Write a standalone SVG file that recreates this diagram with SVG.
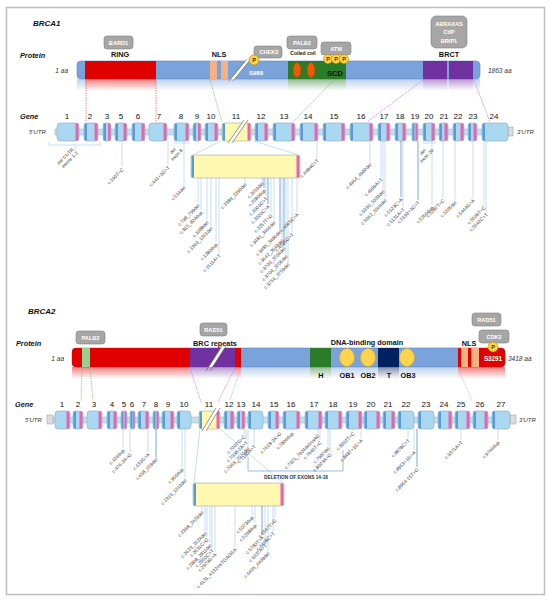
<svg xmlns="http://www.w3.org/2000/svg" width="550" height="602" viewBox="0 0 550 602">
<defs>
<style>
text{font-family:"Liberation Sans",Arial,sans-serif}
.ttl{font-size:8px;font-weight:bold;font-style:italic;fill:#111}
.lbl{font-size:7.3px;font-weight:bold;font-style:italic;fill:#111}
.dom{font-size:7.3px;font-weight:bold;fill:#111;text-anchor:middle}
.aa{font-size:6.5px;font-style:italic;fill:#333}
.box{fill:#A6A6A6;stroke:#7F7F7F;stroke-width:.6}
.bt{font-size:5.6px;font-weight:bold;fill:#fff;text-anchor:middle}
.pc{fill:#FFD43B;stroke:#B8860B;stroke-width:.6}
.pt{font-size:5.5px;font-weight:bold;fill:#333;text-anchor:middle}
.bar{fill:#7BA3DB;stroke:#5F87C0;stroke-width:.6}
.ex{fill:#AAD8F0;stroke:#8BA9C2;stroke-width:.6}
.ey{fill:#FFF8B0;stroke:#A8A890;stroke-width:.6}
.sl{fill:#5B9BD5}
.sr{fill:#E366AE}
.intr{fill:#C8DDEC;stroke:#98B4CA;stroke-width:.5}
.num{font-size:8px;fill:#111;text-anchor:middle}
.utr{font-size:6px;font-style:italic;fill:#333}
.mut{font-size:4.8px;fill:#404040;text-anchor:end}
.mutc{font-size:4.8px;fill:#404040;text-anchor:middle}
.ml{stroke:#A9CBEA;stroke-width:.65;fill:none}
.md{stroke:#2E75B6;stroke-width:.65;fill:none}
.dr{stroke:#FF6B6B;stroke-width:.8;stroke-dasharray:1.5 1;fill:none}
.dg{stroke:#7CC37C;stroke-width:.8;stroke-dasharray:1.5 1;fill:none}
.dp{stroke:#C77DD9;stroke-width:.8;stroke-dasharray:1.5 1;fill:none}
.db{stroke:#9DC3E6;stroke-width:.8;stroke-dasharray:1.5 1;fill:none}
.sla{stroke:#555;stroke-width:.6}
</style>
<linearGradient id="fadeG" x1="0" y1="0" x2="0" y2="1">
<stop offset="0" stop-color="#fff" stop-opacity=".5"/>
<stop offset="1" stop-color="#fff" stop-opacity="0"/>
</linearGradient>
<mask id="m1" maskUnits="userSpaceOnUse" x="0" y="79" width="550" height="12"><rect x="0" y="79" width="550" height="12" fill="url(#fadeG)"/></mask>
<mask id="m2" maskUnits="userSpaceOnUse" x="0" y="367" width="550" height="12"><rect x="0" y="367" width="550" height="12" fill="url(#fadeG)"/></mask>
</defs>
<rect x="6.5" y="7.5" width="538" height="587" fill="#fff" stroke="#BFBFBF" stroke-width="1.5"/>

<!-- ================= BRCA1 ================= -->
<text class="ttl" x="33" y="26">BRCA1</text>
<text class="lbl" x="20" y="58">Protein</text>
<text class="aa" x="68" y="73" text-anchor="end">1 aa</text>
<text class="aa" x="488" y="73">1863 aa</text>

<g id="brca1-protein">
<rect class="bar" x="77" y="61" width="403" height="18" rx="4"/>
<rect x="85" y="61" width="71" height="18" fill="#E00000"/>
<rect x="210" y="61" width="7" height="18" fill="#F4B183"/>
<rect x="221" y="61" width="7" height="18" fill="#F4B183"/>
<polygon points="229,81 247,59 251,59 233,81" fill="#fff"/>
<line class="sla" x1="229" y1="81" x2="247" y2="59"/>
<line class="sla" x1="233" y1="81" x2="251" y2="59"/>
<rect x="288" y="61" width="58" height="18" fill="#2A7B2A"/>
<ellipse cx="297" cy="70" rx="4" ry="7.5" fill="#E85D04" stroke="#B04000" stroke-width=".5"/>
<ellipse cx="311" cy="70" rx="4" ry="7.5" fill="#E85D04" stroke="#B04000" stroke-width=".5"/>
<rect x="423" y="61" width="24" height="18" fill="#7030A0"/>
<rect x="449" y="61" width="24" height="18" fill="#7030A0"/>
<text x="256" y="75" font-size="6" font-weight="bold" fill="#fff" text-anchor="middle">S988</text>
<text x="335" y="76" font-size="7.5" font-weight="bold" fill="#111" text-anchor="middle">SCD</text>
<g mask="url(#m1)">
<rect x="77" y="79" width="403" height="12" fill="#7BA3DB"/>
<rect x="85" y="79" width="71" height="12" fill="#E00000"/>
<rect x="288" y="79" width="58" height="12" fill="#2A7B2A"/>
<rect x="423" y="79" width="24" height="12" fill="#7030A0"/>
<rect x="449" y="79" width="24" height="12" fill="#7030A0"/>
</g>
</g>

<g id="brca1-ring"><text class="dom" x="120" y="57">RING</text></g>
<g id="brca1-nls"><text class="dom" x="219" y="57" font-size="7">NLS</text></g>
<g id="brca1-coiled"><text x="303" y="55" font-size="5" font-weight="bold" fill="#111" text-anchor="middle">Coiled coil</text></g>
<g id="brca1-brct"><text class="dom" x="449" y="57">BRCT</text></g>

<g id="bard1"><rect class="box" x="104" y="36" width="29" height="13" rx="3"/><text class="bt" x="118.5" y="44.7">BARD1</text></g>
<g id="chek2"><rect class="box" x="254" y="46" width="28" height="12" rx="3"/><text class="bt" x="269" y="54.2">CHEK2</text></g>
<g id="palb2-1"><rect class="box" x="287" y="36" width="30" height="13" rx="3"/><text class="bt" x="302" y="44.7">PALB2</text></g>
<g id="atm"><rect class="box" x="321" y="42" width="30" height="13" rx="3"/><text class="bt" x="336" y="50.7">ATM</text></g>
<g id="abraxas"><rect class="box" x="431" y="16" width="36" height="32" rx="5"/>
<text class="bt" x="449" y="25.5">ABRAXAS</text><text class="bt" x="449" y="34">CtIP</text><text class="bt" x="449" y="42.5">BRIP1</text></g>
<g id="p-s988"><circle class="pc" cx="254" cy="60" r="5"/><text class="pt" x="254" y="62">P</text></g>
<g id="p-scd">
<circle class="pc" cx="328" cy="59" r="4.5"/><text class="pt" x="328" y="61">P</text>
<circle class="pc" cx="336" cy="59" r="4.5"/><text class="pt" x="336" y="61">P</text>
<circle class="pc" cx="344" cy="59" r="4.5"/><text class="pt" x="344" y="61">P</text>
</g>

<!-- BRCA1 gene -->
<text class="lbl" x="20" y="119">Gene</text>
<text class="utr" x="29" y="134">5'UTR</text>
<text class="utr" x="517" y="134">3'UTR</text>
<g id="brca1-gene">
<rect class="intr" x="55" y="129" width="453" height="6"/>
<rect x="508" y="127" width="5" height="9" fill="#DCDCDC" stroke="#999" stroke-width=".5"/>
<g id="b1e1"><rect class="ex" x="57" y="123" width="22" height="18" rx="3"/><rect class="sr" x="75.5" y="123.5" width="3" height="17"/></g>
<g id="b1e2"><rect class="ex" x="84" y="123" width="14" height="18" rx="3"/><rect class="sl" x="84.5" y="123.5" width="2.5" height="17"/><rect class="sr" x="94.5" y="123.5" width="3" height="17"/></g>
<g id="b1e3"><rect class="ex" x="103" y="123" width="8" height="18" rx="3"/><rect class="sl" x="103.5" y="123.5" width="2.5" height="17"/><rect class="sr" x="108" y="123.5" width="2.5" height="17"/></g>
<g id="b1e5"><rect class="ex" x="115" y="123" width="12" height="18" rx="3"/><rect class="sl" x="115.5" y="123.5" width="2.5" height="17"/><rect class="sr" x="123.5" y="123.5" width="3" height="17"/></g>
<g id="b1e6"><rect class="ex" x="132" y="123" width="13" height="18" rx="3"/><rect class="sl" x="132.5" y="123.5" width="2.5" height="17"/><rect class="sr" x="141.5" y="123.5" width="3" height="17"/></g>
<g id="b1e7"><rect class="ex" x="149" y="123" width="18" height="18" rx="3"/><rect class="sr" x="163.5" y="123.5" width="3" height="17"/></g>
<g id="b1e8"><rect class="ex" x="174" y="123" width="15" height="18" rx="3"/><rect class="sl" x="174.5" y="123.5" width="2.5" height="17"/><rect class="sr" x="185.5" y="123.5" width="3" height="17"/></g>
<g id="b1e9"><rect class="ex" x="193" y="123" width="8" height="18" rx="3"/><rect class="sl" x="193.5" y="123.5" width="2.5" height="17"/><rect class="sr" x="198" y="123.5" width="2.5" height="17"/></g>
<g id="b1e10"><rect class="ex" x="205" y="123" width="13" height="18" rx="3"/><rect class="sl" x="205.5" y="123.5" width="2.5" height="17"/><rect class="sr" x="214.5" y="123.5" width="3" height="17"/></g>
<g id="b1e11"><rect class="ey" x="222" y="123" width="29" height="18" rx="3"/><rect class="sl" x="222.5" y="123.5" width="2.5" height="17"/><rect class="sr" x="247.5" y="123.5" width="3" height="17"/>
<polygon points="228,143 244,120 248,120 232,143" fill="#fff"/><line class="sla" x1="228" y1="143" x2="244" y2="120"/><line class="sla" x1="232" y1="143" x2="248" y2="120"/></g>
<g id="b1e12"><rect class="ex" x="255" y="123" width="13" height="18" rx="3"/><rect class="sl" x="255.5" y="123.5" width="2.5" height="17"/><rect class="sr" x="264.5" y="123.5" width="3" height="17"/></g>
<g id="b1e13"><rect class="ex" x="273" y="123" width="22" height="18" rx="3"/><rect class="sl" x="273.5" y="123.5" width="2.5" height="17"/><rect class="sr" x="291.5" y="123.5" width="3" height="17"/></g>
<g id="b1e14"><rect class="ex" x="300" y="123" width="18" height="18" rx="3"/><rect class="sl" x="300.5" y="123.5" width="2.5" height="17"/><rect class="sr" x="314.5" y="123.5" width="3" height="17"/></g>
<g id="b1e15"><rect class="ex" x="323" y="123" width="22" height="18" rx="3"/><rect class="sl" x="323.5" y="123.5" width="2.5" height="17"/><rect class="sr" x="341.5" y="123.5" width="3" height="17"/></g>
<g id="b1e16"><rect class="ex" x="350" y="123" width="23" height="18" rx="3"/><rect class="sl" x="350.5" y="123.5" width="2.5" height="17"/><rect class="sr" x="369.5" y="123.5" width="3" height="17"/></g>
<g id="b1e17"><rect class="ex" x="378" y="123" width="12" height="18" rx="3"/><rect class="sl" x="378.5" y="123.5" width="2.5" height="17"/><rect class="sr" x="386.5" y="123.5" width="3" height="17"/></g>
<g id="b1e18"><rect class="ex" x="395" y="123" width="11" height="18" rx="3"/><rect class="sl" x="395.5" y="123.5" width="2.5" height="17"/><rect class="sr" x="402.5" y="123.5" width="3" height="17"/></g>
<g id="b1e19"><rect class="ex" x="412" y="123" width="6" height="18" rx="2"/><rect class="sl" x="412.5" y="123.5" width="2" height="17"/><rect class="sr" x="415.5" y="123.5" width="2" height="17"/></g>
<g id="b1e20"><rect class="ex" x="423" y="123" width="12" height="18" rx="3"/><rect class="sl" x="423.5" y="123.5" width="2.5" height="17"/><rect class="sr" x="431.5" y="123.5" width="3" height="17"/></g>
<g id="b1e21"><rect class="ex" x="439" y="123" width="9" height="18" rx="3"/><rect class="sl" x="439.5" y="123.5" width="2.5" height="17"/><rect class="sr" x="444.5" y="123.5" width="3" height="17"/></g>
<g id="b1e22"><rect class="ex" x="453" y="123" width="11" height="18" rx="3"/><rect class="sl" x="453.5" y="123.5" width="2.5" height="17"/><rect class="sr" x="460.5" y="123.5" width="3" height="17"/></g>
<g id="b1e23"><rect class="ex" x="468" y="123" width="9" height="18" rx="3"/><rect class="sl" x="468.5" y="123.5" width="2.5" height="17"/><rect class="sr" x="473.5" y="123.5" width="3" height="17"/></g>
<g id="b1e24"><rect class="ex" x="482" y="123" width="26" height="18" rx="3"/><rect class="sl" x="482.5" y="123.5" width="2.5" height="17"/></g>
</g>
<g id="brca1-exon-numbers">
<text class="num" x="67" y="119">1</text><text class="num" x="90" y="119">2</text><text class="num" x="107" y="119">3</text>
<text class="num" x="121" y="119">5</text><text class="num" x="138" y="119">6</text><text class="num" x="159" y="119">7</text>
<text class="num" x="181" y="119">8</text><text class="num" x="197" y="119">9</text><text class="num" x="211" y="119">10</text>
<text class="num" x="236" y="119">11</text><text class="num" x="261" y="119">12</text><text class="num" x="284" y="119">13</text>
<text class="num" x="308" y="119">14</text><text class="num" x="334" y="119">15</text><text class="num" x="361" y="119">16</text>
<text class="num" x="384" y="119">17</text><text class="num" x="400" y="119">18</text><text class="num" x="415" y="119">19</text>
<text class="num" x="429" y="119">20</text><text class="num" x="444" y="119">21</text><text class="num" x="458" y="119">22</text>
<text class="num" x="473" y="119">23</text><text class="num" x="494" y="119">24</text>
</g>

<g id="brca1-exon11-expanded">
<rect class="ey" x="191" y="155" width="109" height="23" rx="3"/>
<rect class="sl" x="191.5" y="155.5" width="2.5" height="22"/>
<rect class="sr" x="296.5" y="155.5" width="3" height="22"/>
</g>

<!-- ================= BRCA2 ================= -->
<text class="ttl" x="28" y="314">BRCA2</text>
<text class="lbl" x="16" y="346">Protein</text>
<text class="aa" x="64" y="361" text-anchor="end">1 aa</text>
<text class="aa" x="508" y="361">3418 aa</text>

<g id="brca2-protein">
<rect class="bar" x="72" y="348" width="433" height="19" rx="4"/>
<path d="M76 348H241V367H76Q72 367 72 363V352Q72 348 76 348Z" fill="#E00000"/>
<rect x="82" y="348" width="8" height="19" fill="#92D38F"/>
<rect x="190" y="348" width="45" height="19" fill="#7030A0"/>
<polygon points="206,371 222,346 226,346 210,371" fill="#fff"/>
<line class="sla" x1="206" y1="371" x2="222" y2="346"/>
<line class="sla" x1="210" y1="371" x2="226" y2="346"/>
<rect x="310" y="348" width="21" height="19" fill="#2A7B2A"/>
<ellipse cx="347" cy="357.5" rx="7.5" ry="9" fill="#FFD34E" stroke="#D4A800" stroke-width=".5"/>
<ellipse cx="368" cy="357.5" rx="7.5" ry="9" fill="#FFD34E" stroke="#D4A800" stroke-width=".5"/>
<rect x="378" y="348" width="21" height="19" fill="#002060"/>
<ellipse cx="407" cy="357.5" rx="7.5" ry="9" fill="#FFD34E" stroke="#D4A800" stroke-width=".5"/>
<rect x="458" y="348" width="3" height="19" fill="#E00000"/>
<rect x="461" y="348" width="7" height="19" fill="#F4B183"/>
<rect x="468" y="348" width="3.5" height="19" fill="#E00000"/>
<rect x="471.5" y="348" width="7.5" height="19" fill="#F4B183"/>
<path d="M479 348H501Q505 348 505 352V363Q505 367 501 367H479Z" fill="#E00000"/>
<text x="493" y="361" font-size="6.3" font-weight="bold" fill="#fff" text-anchor="middle">S3291</text>
<g mask="url(#m2)">
<rect x="72" y="367" width="433" height="12" fill="#7BA3DB"/>
<rect x="72" y="367" width="169" height="12" fill="#E00000"/>
<rect x="190" y="367" width="45" height="12" fill="#7030A0"/>
<rect x="310" y="367" width="21" height="12" fill="#2A7B2A"/>
<rect x="378" y="367" width="21" height="12" fill="#002060"/>
<rect x="458" y="367" width="47" height="12" fill="#E00000"/>
</g>
</g>
<g id="brca2-brc"><text class="dom" x="215" y="346">BRC repeats</text></g>
<g id="brca2-dbd"><text class="dom" x="367" y="345">DNA-binding domain</text>
<text class="dom" x="321" y="378" font-size="6.8">H</text><text class="dom" x="347" y="378" font-size="6.8">OB1</text>
<text class="dom" x="368" y="378" font-size="6.8">OB2</text><text class="dom" x="389" y="378" font-size="6.8">T</text>
<text class="dom" x="408" y="378" font-size="6.8">OB3</text></g>
<g id="brca2-nls"><text class="dom" x="469" y="346" font-size="6.3">NLS</text></g>
<g id="palb2-2"><rect class="box" x="76" y="331" width="29" height="13" rx="3"/><text class="bt" x="90.5" y="339.7">PALB2</text></g>
<g id="rad51-brc"><rect class="box" x="200" y="323" width="27" height="13" rx="3"/><text class="bt" x="213.5" y="331.7">RAD51</text></g>
<g id="rad51-c"><rect class="box" x="472" y="313" width="29" height="13" rx="3"/><text class="bt" x="486.5" y="321.7">RAD51</text></g>
<g id="cdk2"><rect class="box" x="479" y="330" width="30" height="13" rx="3"/><text class="bt" x="494" y="338.7">CDK2</text></g>
<g id="p-s3291"><circle class="pc" cx="493" cy="347" r="5"/><text class="pt" x="493" y="349">P</text></g>

<!-- BRCA2 gene -->
<text class="lbl" x="15" y="407">Gene</text>
<text class="utr" x="25" y="422">5'UTR</text>
<text class="utr" x="519" y="422">3'UTR</text>
<g id="brca2-gene">
<rect class="intr" x="53" y="417" width="458" height="6"/>
<rect x="47" y="415" width="6" height="9" fill="#DCDCDC" stroke="#999" stroke-width=".5"/>
<rect x="510" y="415" width="6" height="9" fill="#DCDCDC" stroke="#999" stroke-width=".5"/>
<g id="b2e1"><rect class="ex" x="55" y="411" width="15" height="18" rx="3"/><rect class="sr" x="66.5" y="411.5" width="3" height="17"/></g>
<g id="b2e2"><rect class="ex" x="73" y="411" width="10" height="18" rx="3"/><rect class="sl" x="73.5" y="411.5" width="2.5" height="17"/><rect class="sr" x="79.5" y="411.5" width="3" height="17"/></g>
<g id="b2e3"><rect class="ex" x="87" y="411" width="15" height="18" rx="3"/><rect class="sr" x="98.5" y="411.5" width="3" height="17"/></g>
<g id="b2e4"><rect class="ex" x="107" y="411" width="10" height="18" rx="3"/><rect class="sl" x="107.5" y="411.5" width="2.5" height="17"/><rect class="sr" x="113.5" y="411.5" width="3" height="17"/></g>
<g id="b2e5"><rect class="ex" x="121" y="411" width="6" height="18" rx="2"/><rect class="sl" x="121.5" y="411.5" width="2" height="17"/><rect class="sr" x="124.5" y="411.5" width="2" height="17"/></g>
<g id="b2e6"><rect class="ex" x="130" y="411" width="5" height="18" rx="2"/><rect class="sl" x="130.5" y="411.5" width="2" height="17"/><rect class="sr" x="133" y="411.5" width="1.5" height="17"/></g>
<g id="b2e7"><rect class="ex" x="138" y="411" width="11" height="18" rx="3"/><rect class="sl" x="138.5" y="411.5" width="2.5" height="17"/><rect class="sr" x="145.5" y="411.5" width="3" height="17"/></g>
<g id="b2e8"><rect class="ex" x="153" y="411" width="6" height="18" rx="2"/><rect class="sl" x="153.5" y="411.5" width="2" height="17"/><rect class="sr" x="156.5" y="411.5" width="2" height="17"/></g>
<g id="b2e9"><rect class="ex" x="162" y="411" width="12" height="18" rx="3"/><rect class="sl" x="162.5" y="411.5" width="2.5" height="17"/><rect class="sr" x="170.5" y="411.5" width="3" height="17"/></g>
<g id="b2e10"><rect class="ex" x="177" y="411" width="14" height="18" rx="3"/><rect class="sl" x="177.5" y="411.5" width="2.5" height="17"/></g>
<g id="b2e11"><rect class="ey" x="199" y="411" width="21" height="18" rx="3"/><rect class="sl" x="199.5" y="411.5" width="2.5" height="17"/><rect class="sr" x="216.5" y="411.5" width="3" height="17"/>
<polygon points="202,431 216,408 220,408 206,431" fill="#fff"/><line class="sla" x1="202" y1="431" x2="216" y2="408"/><line class="sla" x1="206" y1="431" x2="220" y2="408"/></g>
<g id="b2e12"><rect class="ex" x="224" y="411" width="10" height="18" rx="3"/><rect class="sl" x="224.5" y="411.5" width="2.5" height="17"/><rect class="sr" x="230.5" y="411.5" width="3" height="17"/></g>
<g id="b2e13"><rect class="ex" x="237" y="411" width="8" height="18" rx="3"/><rect class="sl" x="237.5" y="411.5" width="2.5" height="17"/><rect class="sr" x="242" y="411.5" width="2.5" height="17"/></g>
<g id="b2e14"><rect class="ex" x="248" y="411" width="15" height="18" rx="3"/><rect class="sl" x="248.5" y="411.5" width="2.5" height="17"/></g>
<g id="b2e15"><rect class="ex" x="268" y="411" width="11" height="18" rx="3"/><rect class="sl" x="268.5" y="411.5" width="2.5" height="17"/><rect class="sr" x="275.5" y="411.5" width="3" height="17"/></g>
<g id="b2e16"><rect class="ex" x="283" y="411" width="17" height="18" rx="3"/><rect class="sl" x="283.5" y="411.5" width="2.5" height="17"/><rect class="sr" x="296.5" y="411.5" width="3" height="17"/></g>
<g id="b2e17"><rect class="ex" x="305" y="411" width="17" height="18" rx="3"/><rect class="sl" x="305.5" y="411.5" width="2.5" height="17"/><rect class="sr" x="318.5" y="411.5" width="3" height="17"/></g>
<g id="b2e18"><rect class="ex" x="325" y="411" width="17" height="18" rx="3"/><rect class="sl" x="325.5" y="411.5" width="2.5" height="17"/><rect class="sr" x="338.5" y="411.5" width="3" height="17"/></g>
<g id="b2e19"><rect class="ex" x="346" y="411" width="16" height="18" rx="3"/><rect class="sl" x="346.5" y="411.5" width="2.5" height="17"/><rect class="sr" x="358.5" y="411.5" width="3" height="17"/></g>
<g id="b2e20"><rect class="ex" x="364" y="411" width="16" height="18" rx="3"/><rect class="sl" x="364.5" y="411.5" width="2.5" height="17"/><rect class="sr" x="376.5" y="411.5" width="3" height="17"/></g>
<g id="b2e21"><rect class="ex" x="383" y="411" width="12" height="18" rx="3"/><rect class="sl" x="383.5" y="411.5" width="2.5" height="17"/><rect class="sr" x="391.5" y="411.5" width="3" height="17"/></g>
<g id="b2e22"><rect class="ex" x="398" y="411" width="16" height="18" rx="3"/><rect class="sl" x="398.5" y="411.5" width="2.5" height="17"/></g>
<g id="b2e23"><rect class="ex" x="418" y="411" width="16" height="18" rx="3"/><rect class="sl" x="418.5" y="411.5" width="2.5" height="17"/></g>
<g id="b2e24"><rect class="ex" x="438" y="411" width="14" height="18" rx="3"/><rect class="sl" x="438.5" y="411.5" width="2.5" height="17"/><rect class="sr" x="448.5" y="411.5" width="3" height="17"/></g>
<g id="b2e25"><rect class="ex" x="455" y="411" width="15" height="18" rx="3"/><rect class="sl" x="455.5" y="411.5" width="2.5" height="17"/><rect class="sr" x="466.5" y="411.5" width="3" height="17"/></g>
<g id="b2e26"><rect class="ex" x="473" y="411" width="15" height="18" rx="3"/><rect class="sl" x="473.5" y="411.5" width="2.5" height="17"/><rect class="sr" x="484.5" y="411.5" width="3" height="17"/></g>
<g id="b2e27"><rect class="ex" x="492" y="411" width="18" height="18" rx="3"/><rect class="sl" x="492.5" y="411.5" width="2.5" height="17"/></g>
</g>
<g id="brca2-exon-numbers">
<text class="num" x="62" y="407">1</text><text class="num" x="78" y="407">2</text><text class="num" x="94" y="407">3</text>
<text class="num" x="112" y="407">4</text><text class="num" x="124" y="407">5</text><text class="num" x="132" y="407">6</text>
<text class="num" x="144" y="407">7</text><text class="num" x="156" y="407">8</text><text class="num" x="168" y="407">9</text>
<text class="num" x="184" y="407">10</text><text class="num" x="209" y="407">11</text><text class="num" x="229" y="407">12</text>
<text class="num" x="241" y="407">13</text><text class="num" x="256" y="407">14</text><text class="num" x="274" y="407">15</text>
<text class="num" x="291" y="407">16</text><text class="num" x="314" y="407">17</text><text class="num" x="333" y="407">18</text>
<text class="num" x="353" y="407">19</text><text class="num" x="371" y="407">20</text><text class="num" x="388" y="407">21</text>
<text class="num" x="406" y="407">22</text><text class="num" x="426" y="407">23</text><text class="num" x="444" y="407">24</text>
<text class="num" x="461" y="407">25</text><text class="num" x="480" y="407">26</text><text class="num" x="501" y="407">27</text>
</g>

<g id="brca2-exon11-expanded">
<rect class="ey" x="193" y="483" width="91" height="23" rx="3"/>
<rect class="sl" x="193.5" y="483.5" width="2.5" height="22"/>
<rect class="sr" x="280.5" y="483.5" width="3" height="22"/>
</g>

<!-- ================= CONNECTORS ================= -->
<g id="connectors">
<line class="dr" x1="86" y1="80" x2="86" y2="122"/>
<line class="dr" x1="156" y1="80" x2="156" y2="122"/>
<line class="dg" x1="210" y1="80" x2="222" y2="122"/>
<line class="dg" x1="334" y1="80" x2="293" y2="122"/>
<line class="dp" x1="423" y1="80" x2="367" y2="122"/>
<line class="dp" x1="474" y1="80" x2="490" y2="122"/>
<line class="ml" x1="221" y1="141" x2="193" y2="155"/>
<line class="ml" x1="254" y1="141" x2="299" y2="155"/>
<path class="ml" d="M49 142V145H100V142M75 145V148"/>
<path class="ml" d="M174 141V143H189V141"/>
<path class="ml" d="M423 141V143H435V141"/>
<line class="ml" x1="122" y1="141" x2="122" y2="167"/>
<line class="ml" x1="168" y1="141" x2="168" y2="165"/>
<line class="ml" x1="184" y1="141" x2="184" y2="185"/>
<line class="ml" x1="317" y1="141" x2="317" y2="158"/>
<line class="ml" x1="370" y1="141" x2="370" y2="162"/>
<line class="ml" x1="381" y1="141" x2="381" y2="177"/>
<line class="ml" x1="383" y1="141" x2="383" y2="189"/>
<line class="ml" x1="385" y1="141" x2="385" y2="198"/>
<line class="md" x1="401" y1="141" x2="401" y2="197"/>
<line class="ml" x1="403" y1="141" x2="403" y2="207"/>
<line class="md" x1="418" y1="141" x2="418" y2="200"/>
<line class="ml" x1="432" y1="141" x2="432" y2="205"/>
<line class="ml" x1="443" y1="141" x2="443" y2="198"/>
<line class="ml" x1="455" y1="141" x2="455" y2="200"/>
<line class="ml" x1="473" y1="141" x2="473" y2="198"/>
<line class="ml" x1="484" y1="141" x2="484" y2="205"/>
<line class="ml" x1="486" y1="141" x2="486" y2="212"/>
<line class="ml" x1="198" y1="178" x2="198" y2="203"/>
<line class="ml" x1="201" y1="178" x2="201" y2="210"/>
<line class="ml" x1="207" y1="178" x2="207" y2="220"/>
<line class="ml" x1="211" y1="178" x2="211" y2="226"/>
<line class="ml" x1="216" y1="178" x2="216" y2="242"/>
<line class="ml" x1="219" y1="178" x2="219" y2="253"/>
<line class="ml" x1="245" y1="178" x2="245" y2="182"/>
<line class="ml" x1="262" y1="178" x2="262" y2="181"/>
<line class="md" x1="264" y1="178" x2="264" y2="188"/>
<line class="ml" x1="266" y1="178" x2="266" y2="196"/>
<line class="md" x1="268" y1="178" x2="268" y2="204"/>
<line class="ml" x1="271" y1="178" x2="271" y2="213"/>
<line class="ml" x1="274" y1="178" x2="274" y2="220"/>
<line class="md" x1="280" y1="178" x2="280" y2="229"/>
<line class="ml" x1="282" y1="178" x2="282" y2="238"/>
<line class="md" x1="284" y1="178" x2="284" y2="246"/>
<line class="ml" x1="286" y1="178" x2="286" y2="254"/>
<line class="ml" x1="288" y1="178" x2="288" y2="262"/>
<line class="ml" x1="292" y1="178" x2="292" y2="232"/>
<line class="ml" x1="297" y1="178" x2="297" y2="212"/>
<line class="dg" x1="82" y1="368" x2="81" y2="401"/>
<line class="dg" x1="90" y1="368" x2="93" y2="401"/>
<line class="dp" x1="190" y1="368" x2="201" y2="402"/>
<line class="dp" x1="235" y1="368" x2="218" y2="402"/>
<line class="db" x1="241" y1="368" x2="230" y2="400"/>
<line class="db" x1="458" y1="368" x2="472" y2="401"/>
<line class="ml" x1="200" y1="429" x2="194" y2="483"/>
<line class="ml" x1="220" y1="429" x2="283" y2="483"/>
<path d="M248 457V471H343V450" fill="none" stroke="#5B9BD5" stroke-width=".65"/>
<line class="ml" x1="123" y1="429" x2="123" y2="448"/>
<line class="ml" x1="130" y1="429" x2="130" y2="452"/>
<line class="ml" x1="148" y1="429" x2="148" y2="452"/>
<line class="md" x1="156" y1="429" x2="156" y2="457"/>
<line class="ml" x1="182" y1="429" x2="182" y2="467"/>
<line class="ml" x1="185" y1="429" x2="185" y2="478"/>
<line class="ml" x1="244" y1="429" x2="244" y2="434"/>
<line class="ml" x1="246" y1="429" x2="246" y2="440"/>
<line class="ml" x1="248" y1="429" x2="248" y2="446"/>
<line class="ml" x1="254" y1="429" x2="254" y2="444"/>
<line class="ml" x1="280" y1="429" x2="280" y2="431"/>
<line class="ml" x1="292" y1="429" x2="292" y2="431"/>
<line class="ml" x1="318" y1="429" x2="318" y2="433"/>
<line class="ml" x1="320" y1="429" x2="320" y2="440"/>
<line class="ml" x1="328" y1="429" x2="328" y2="446"/>
<line class="ml" x1="330" y1="429" x2="330" y2="452"/>
<line class="ml" x1="353" y1="429" x2="353" y2="431"/>
<line class="ml" x1="361" y1="429" x2="361" y2="438"/>
<line class="ml" x1="408" y1="429" x2="408" y2="438"/>
<line class="ml" x1="414" y1="429" x2="414" y2="450"/>
<line class="md" x1="417" y1="429" x2="417" y2="467"/>
<line class="ml" x1="461" y1="429" x2="461" y2="440"/>
<line class="ml" x1="498" y1="429" x2="498" y2="440"/>
<line class="ml" x1="202" y1="506" x2="202" y2="510"/>
<line class="ml" x1="205" y1="506" x2="205" y2="531"/>
<line class="ml" x1="207" y1="506" x2="207" y2="537"/>
<line class="ml" x1="210" y1="506" x2="210" y2="543"/>
<line class="ml" x1="212" y1="506" x2="212" y2="548"/>
<line class="ml" x1="215" y1="506" x2="215" y2="552"/>
<line class="ml" x1="235" y1="506" x2="235" y2="547"/>
<line class="ml" x1="252" y1="506" x2="252" y2="515"/>
<line class="ml" x1="255" y1="506" x2="255" y2="523"/>
<line class="md" x1="262" y1="506" x2="262" y2="535"/>
<line class="ml" x1="265" y1="506" x2="265" y2="543"/>
<line class="ml" x1="268" y1="506" x2="268" y2="551"/>
<line class="ml" x1="273" y1="506" x2="273" y2="531"/>
<line class="ml" x1="275" y1="506" x2="275" y2="518"/>
</g>

<!-- ================= MUTATION LABELS ================= -->
<g id="brca1-labels">
<text class="mutc" transform="translate(67,157) rotate(-45)"><tspan x="0" y="0">del 5'UTR,</tspan><tspan x="0" y="5.5">exons 1-2</tspan></text>
<text class="mutc" transform="translate(174,152) rotate(-45)"><tspan x="0" y="0">del</tspan><tspan x="0" y="5.5">exon 8</tspan></text>
<text class="mutc" transform="translate(424,153) rotate(-45)"><tspan x="0" y="0">del</tspan><tspan x="0" y="5.5">exon 20</tspan></text>
<text class="mut" transform="rotate(-45 124 170)" x="124" y="170">c.190T&gt;C</text>
<text class="mut" transform="rotate(-45 170 168)" x="170" y="168">c.441+1G&gt;T</text>
<text class="mut" transform="rotate(-45 186 188)" x="186" y="188">c.514del</text>
<text class="mut" transform="rotate(-45 319 161)" x="319" y="161">c.4484G&gt;T</text>
<text class="mut" transform="rotate(-45 372 165)" x="372" y="165">c.4964_4982del</text>
<text class="mut" transform="rotate(-45 383 180)" x="383" y="180">c.4999A&gt;T</text>
<text class="mut" transform="rotate(-45 385 192)" x="385" y="192">c.5030_5033del</text>
<text class="mut" transform="rotate(-45 387 201)" x="387" y="201">c.5062_5064del</text>
<text class="mut" transform="rotate(-45 403 200)" x="403" y="200">c.5123C&gt;A</text>
<text class="mut" transform="rotate(-45 405 210)" x="405" y="210">c.5131A&gt;T</text>
<text class="mut" transform="rotate(-45 420 203)" x="420" y="203">c.5193+1G&gt;T</text>
<text class="mut" transform="rotate(-45 434 208)" x="434" y="208">c.5266dup</text>
<text class="mut" transform="rotate(-45 445 201)" x="445" y="201">c.5287T&gt;C</text>
<text class="mut" transform="rotate(-45 457 203)" x="457" y="203">c.5335del</text>
<text class="mut" transform="rotate(-45 475 201)" x="475" y="201">c.5444G&gt;A</text>
<text class="mut" transform="rotate(-45 486 208)" x="486" y="208">c.5509T&gt;C</text>
<text class="mut" transform="rotate(-45 488 215)" x="488" y="215">c.5542C&gt;T</text>
<text class="mut" transform="rotate(-45 200 206)" x="200" y="206">c.798_799del</text>
<text class="mut" transform="rotate(-45 203 213)" x="203" y="213">c.815_824dup</text>
<text class="mut" transform="rotate(-45 209 223)" x="209" y="223">c.1088del</text>
<text class="mut" transform="rotate(-45 213 229)" x="213" y="229">c.1360_1361del</text>
<text class="mut" transform="rotate(-45 218 245)" x="218" y="245">c.1380dup</text>
<text class="mut" transform="rotate(-45 221 256)" x="221" y="256">c.1511A&gt;T</text>
<text class="mut" transform="rotate(-45 247 185)" x="247" y="185">c.2389_2390del</text>
<text class="mut" transform="rotate(-45 264 184)" x="264" y="184">c.2653del</text>
<text class="mut" transform="rotate(-45 266 191)" x="266" y="191">c.2680dup</text>
<text class="mut" transform="rotate(-45 268 199)" x="268" y="199">c.3001G&gt;T</text>
<text class="mut" transform="rotate(-45 270 207)" x="270" y="207">c.3026C&gt;A</text>
<text class="mut" transform="rotate(-45 273 216)" x="273" y="216">c.3257T&gt;G</text>
<text class="mut" transform="rotate(-45 276 223)" x="276" y="223">c.3481_3491del</text>
<text class="mut" transform="rotate(-45 282 232)" x="282" y="232">c.3485_3486del</text>
<text class="mut" transform="rotate(-45 284 241)" x="284" y="241">c.3642_3643del</text>
<text class="mut" transform="rotate(-45 286 249)" x="286" y="249">c.3700_3704del</text>
<text class="mut" transform="rotate(-45 288 257)" x="288" y="257">c.3704_3705del</text>
<text class="mut" transform="rotate(-45 290 265)" x="290" y="265">c.3756_3759del</text>
<text class="mut" transform="rotate(-45 294 235)" x="294" y="235">c.4035G&gt;T</text>
<text class="mut" transform="rotate(-45 299 215)" x="299" y="215">c.4065C&gt;A</text>
</g>
<g id="brca2-labels">
<text class="mut" transform="rotate(-45 125 451)" x="125" y="451">c.426dup</text>
<text class="mut" transform="rotate(-45 132 455)" x="132" y="455">c.476-2A&gt;G</text>
<text class="mut" transform="rotate(-45 150 455)" x="150" y="455">c.631G&gt;A</text>
<text class="mut" transform="rotate(-45 158 460)" x="158" y="460">c.658_659del</text>
<text class="mut" transform="rotate(-45 184 470)" x="184" y="470">c.956dup</text>
<text class="mut" transform="rotate(-45 187 481)" x="187" y="481">c.1310_1313del</text>
<text class="mut" transform="rotate(-45 246 437)" x="246" y="437">c.7007G&gt;C</text>
<text class="mut" transform="rotate(-45 248 443)" x="248" y="443">c.7008-2A&gt;T</text>
<text class="mut" transform="rotate(-45 250 449)" x="250" y="449">c.7069_7070del</text>
<text class="mut" transform="rotate(-45 256 447)" x="256" y="447">c.7180A&gt;T</text>
<text class="mut" transform="rotate(-45 282 434)" x="282" y="434">c.7618-2A&gt;G</text>
<text class="mut" transform="rotate(-45 294 434)" x="294" y="434">c.7806dup</text>
<text class="mut" transform="rotate(-45 320 436)" x="320" y="436">c.7921_7924delinsAG</text>
<text class="mut" transform="rotate(-45 322 443)" x="322" y="443">c.7940T&gt;C</text>
<text class="mut" transform="rotate(-45 330 449)" x="330" y="449">c.7987del</text>
<text class="mut" transform="rotate(-45 332 455)" x="332" y="455">c.8023A&gt;G</text>
<text class="mut" transform="rotate(-45 355 434)" x="355" y="434">c.8362T&gt;C</text>
<text class="mut" transform="rotate(-45 363 441)" x="363" y="441">c.8487+1G&gt;A</text>
<text class="mut" transform="rotate(-45 410 441)" x="410" y="441">c.8878C&gt;T</text>
<text class="mut" transform="rotate(-45 416 453)" x="416" y="453">c.8953+1G&gt;A</text>
<text class="mut" transform="rotate(-45 419 470)" x="419" y="470">c.8954-15T&gt;G</text>
<text class="mut" transform="rotate(-45 463 443)" x="463" y="443">c.9371A&gt;T</text>
<text class="mut" transform="rotate(-45 500 443)" x="500" y="443">c.9746dup</text>
<text x="296" y="479" font-size="4.8" font-weight="bold" fill="#333" text-anchor="middle">DELETION OF EXONS 14-18</text>
<text class="mut" transform="rotate(-45 204 513)" x="204" y="513">c.2398_2423del</text>
<text class="mut" transform="rotate(-45 207 534)" x="207" y="534">c.2623_2624del</text>
<text class="mut" transform="rotate(-45 209 540)" x="209" y="540">c.2631C&gt;G</text>
<text class="mut" transform="rotate(-45 212 546)" x="212" y="546">c.2808_2811del</text>
<text class="mut" transform="rotate(-45 214 551)" x="214" y="551">c.2950C&gt;T</text>
<text class="mut" transform="rotate(-45 217 555)" x="217" y="555">c.2979G&gt;A</text>
<text class="mut" transform="rotate(-45 237 550)" x="237" y="550">c.4131_4132insTGAGGA</text>
<text class="mut" transform="rotate(-45 254 518)" x="254" y="518">c.5073dup</text>
<text class="mut" transform="rotate(-45 257 526)" x="257" y="526">c.5238dup</text>
<text class="mut" transform="rotate(-45 264 538)" x="264" y="538">c.5780T&gt;A</text>
<text class="mut" transform="rotate(-45 267 546)" x="267" y="546">c.6037A&gt;T</text>
<text class="mut" transform="rotate(-45 270 554)" x="270" y="554">c.6405_6409del</text>
<text class="mut" transform="rotate(-45 275 534)" x="275" y="534">c.6468C&gt;T</text>
<text class="mut" transform="rotate(-45 277 521)" x="277" y="521">c.6547T&gt;G</text>
</g>
</svg>
